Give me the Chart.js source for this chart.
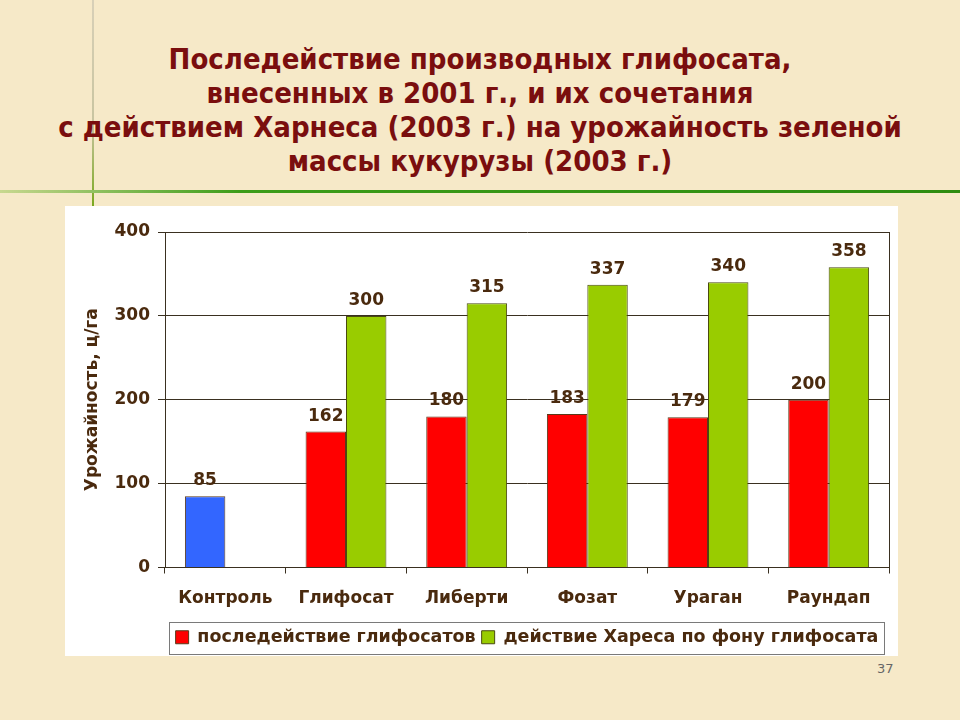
<!DOCTYPE html>
<html>
<head>
<meta charset="utf-8">
<script src="https://cdn.jsdelivr.net/npm/chart.js@4/dist/chart.umd.min.js"></script>
<style>
    html, body { margin: 0; padding: 0; }
    body {
        width: 960px; height: 720px; position: relative; overflow: hidden;
        background: #f6e9c8;
        font-family: "DejaVu Sans", sans-serif;
    }
    #vline { position: absolute; left: 92px; top: 0; width: 2px; height: 206px;
        background: linear-gradient(#d8d0b8, #c8c4a0 60%, #7aa820); }
    #hline { position: absolute; left: 0; top: 190px; width: 960px; height: 3px;
        background: linear-gradient(90deg, #c8d890, #3c9c18 25%, #2e8c10); }
    #title { position: absolute; left: 0; top: 42px; width: 960px; text-align: center;
        font-family: "DejaVu Sans Condensed", "DejaVu Sans", sans-serif; font-weight: bold;
        font-size: 29px; line-height: 34px; color: #7a0e0e; }
    #panel { position: absolute; left: 65px; top: 206px; width: 833px; height: 450px; background: #fff; }
    #pagenum { position: absolute; left: 877px; top: 661px; font-size: 13px; color: #666; }
</style>
</head>
<body>
<div id="vline"></div>
<div id="hline"></div>
<div id="title">Последействие производных глифосата,<br>внесенных в 2001 г., и их сочетания<br>с действием Харнеса (2003 г.) на урожайность зеленой<br>массы кукурузы (2003 г.)</div>
<div id="panel"><canvas id="barChartID" width="833" height="450"></canvas></div>
<div id="pagenum">37</div>
<script>
var categories = ['Контроль', 'Глифосат', 'Либерти', 'Фозат', 'Ураган', 'Раундап'];
var after_effect = [85, 162, 180, 183, 179, 200];
var harness_effect = [null, 300, 315, 337, 340, 358];
var series_names = ['последействие глифосатов', 'действие Хареса по фону глифосата'];
var y_ticks = [0, 100, 200, 300, 400];

var text_color = '#4a2a0e';
var bar_colors = ['#3366ff', '#ff0000', '#ff0000', '#ff0000', '#ff0000', '#ff0000'];

// value labels over the bars + frame round plot area and legend
var extras_plugin = {
    id: 'extras',
    afterDatasetsDraw: function(chart) {
        var ctx = chart.ctx;
        ctx.save();
        ctx.font = 'bold 17px "DejaVu Sans"';
        ctx.fillStyle = text_color;
        ctx.textAlign = 'center';
        ctx.textBaseline = 'bottom';
        chart.data.datasets.forEach(function(ds, i) {
            chart.getDatasetMeta(i).data.forEach(function(bar, j) {
                if (ds.data[j] == null) return;
                ctx.fillText(ds.data[j], bar.x, bar.y - 7);
            });
        });
        var a = chart.chartArea;
        ctx.strokeStyle = '#3a3020';
        ctx.lineWidth = 1;
        ctx.beginPath();
        ctx.moveTo(Math.round(a.right) + 0.5, a.top);
        ctx.lineTo(Math.round(a.right) + 0.5, a.bottom);
        ctx.stroke();
        ctx.restore();
    },
    afterDraw: function(chart) {
        var ctx = chart.ctx;
        var boxes = chart.legend.legendHitBoxes;
        if (!boxes || !boxes.length) return;
        var l = boxes[0].left - 7;
        var last = boxes[boxes.length - 1];
        var r = last.left + last.width + 5;
        var t = boxes[0].top - 7;
        var b = boxes[0].top + boxes[0].height + 7;
        ctx.save();
        ctx.strokeStyle = '#7a7a7a';
        ctx.lineWidth = 1;
        ctx.strokeRect(Math.round(l) + 0.5, Math.round(t) + 0.5, Math.round(r - l), Math.round(b - t));
        ctx.restore();
    }
};

var config = {
    type: 'bar',
    data: {
        labels: categories,
        datasets: [
            { label: series_names[0], data: after_effect, backgroundColor: bar_colors,
              borderColor: '#5a3a1a', borderWidth: 1 },
            { label: series_names[1], data: harness_effect, backgroundColor: '#99cc00',
              borderColor: '#4a4a10', borderWidth: 1 }
        ]
    },
    options: {
        responsive: false,
        animation: false,
        categoryPercentage: 0.67,
        barPercentage: 1.0,
        layout: { padding: { left: 17, top: 26, right: 9, bottom: 0 } },
        plugins: {
            title: { display: false },
            tooltip: { enabled: false },
            legend: {
                position: 'bottom',
                fullSize: false,
                labels: {
                    color: text_color,
                    font: { family: 'DejaVu Sans', size: 17.5, weight: 'bold' },
                    boxWidth: 13, boxHeight: 13, padding: 6,
                    generateLabels: function(chart) {
                        return [
                            { text: series_names[0], fillStyle: '#ff0000', strokeStyle: '#5a3a1a', lineWidth: 1, datasetIndex: 0, fontColor: text_color },
                            { text: series_names[1], fillStyle: '#99cc00', strokeStyle: '#4a4a10', lineWidth: 1, datasetIndex: 1, fontColor: text_color }
                        ];
                    }
                }
            }
        },
        scales: {
            x: {
                grid: { display: true, drawOnChartArea: false, color: '#3a3020', tickLength: 6, offset: true },
                border: { color: '#3a3020' },
                ticks: { color: text_color, font: { family: 'DejaVu Sans', size: 17, weight: 'bold' }, padding: 15 },
                afterFit: function(scale) { scale.height = 55; }
            },
            y: {
                min: 0, max: 400,
                afterBuildTicks: function(scale) { scale.ticks = y_ticks.map(function(v) { return { value: v }; }); },
                grid: { color: '#3a3020', tickLength: 7 },
                border: { color: '#3a3020' },
                ticks: { color: text_color, font: { family: 'DejaVu Sans', size: 17, weight: 'bold' }, padding: 8 },
                title: { display: true, text: 'Урожайность, ц/га', color: text_color,
                         font: { family: 'DejaVu Sans', size: 17, weight: 'bold' }, padding: { top: 0, bottom: 4 } },
                afterFit: function(scale) { scale.width = 83; }
            }
        }
    },
    plugins: [extras_plugin]
};

var myChart = new Chart(document.getElementById('barChartID'), config);
</script>
</body>
</html>
